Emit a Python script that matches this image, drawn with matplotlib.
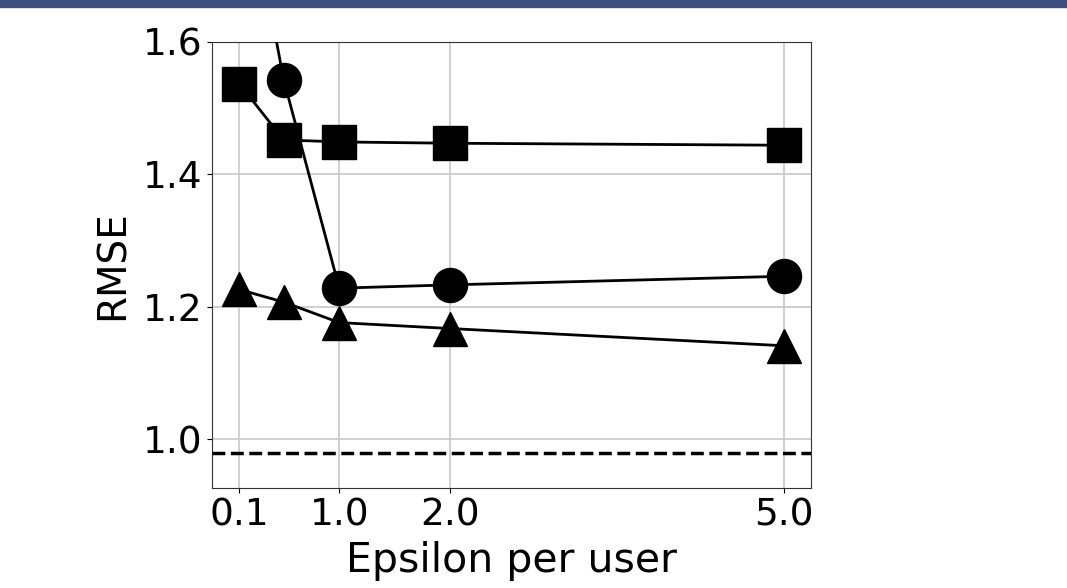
import matplotlib
matplotlib.use('Agg')
import matplotlib.pyplot as plt
from matplotlib.patches import Rectangle

# values
epsilon = [0.1, 0.5, 1.0, 2.0, 5.0]
rmse_square = [1.537, 1.452, 1.449, 1.447, 1.444]
rmse_circle = [1.90, 1.543, 1.228, 1.233, 1.246]
rmse_triangle = [1.226, 1.207, 1.176, 1.167, 1.141]
baseline = 0.979

xtick_values = [0.1, 1.0, 2.0, 5.0]
ytick_values = [1.0, 1.2, 1.4, 1.6]

plt.rcParams['font.size'] = 27

fig = plt.figure(figsize=(10.67, 5.88), dpi=100)
ax = fig.add_axes([0.1987, 0.170, 0.5613, 0.7586])

# dark header strip along the top edge
fig.patches.append(Rectangle((0, 0.988), 1, 0.012, transform=fig.transFigure,
                             color='#3e5082', zorder=10))

for ys, marker in [(rmse_square, 's'), (rmse_circle, 'o'), (rmse_triangle, '^')]:
    ax.plot(epsilon, ys, color='black', lw=2, marker=marker,
            markersize=24.5, zorder=3)

ax.axhline(baseline, color='black', ls='--', lw=2.5, zorder=3)

ax.set_ylim(0.926, 1.6)
ax.set_xticks(xtick_values)
ax.set_xticklabels([f'{v:.1f}' for v in xtick_values])
ax.set_yticks(ytick_values)
ax.set_yticklabels([f'{v:.1f}' for v in ytick_values])
ax.grid(True, color='#c8c8c8', lw=1.2)
for spine in ax.spines.values():
    spine.set_color('#333333')

ax.set_xlabel('Epsilon per user', fontsize=29.5, labelpad=5)
ax.set_ylabel('RMSE', fontsize=28, labelpad=8)

fig.savefig('out.png', dpi=100)
